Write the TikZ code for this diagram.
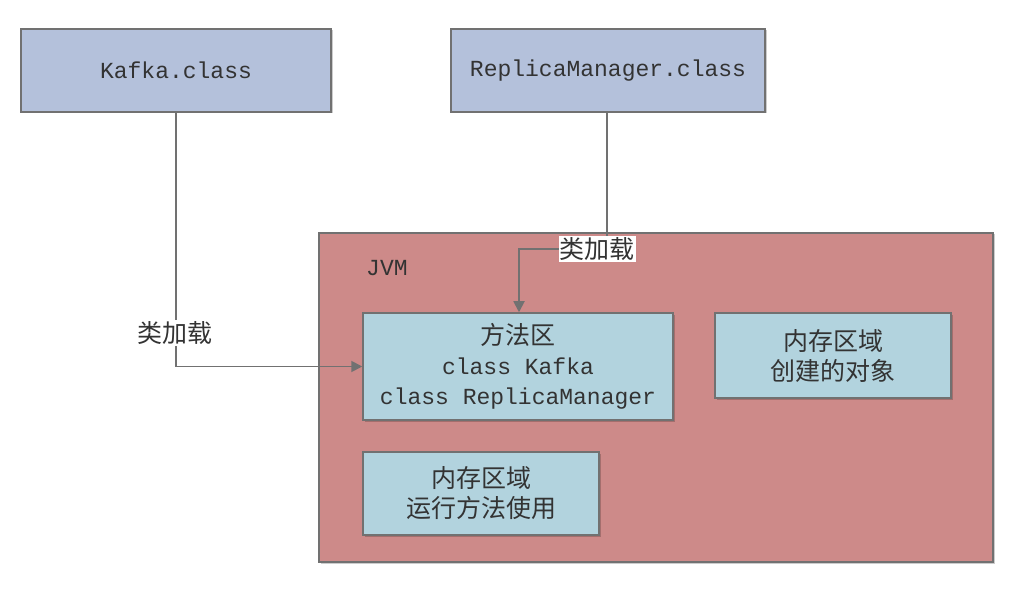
\documentclass[tikz,border=0pt]{standalone}
\usepackage{fontspec}
\setmonofont{Liberation Mono}
\newfontfamily\cjk{Noto Sans CJK SC}
\usetikzlibrary{arrows.meta,shadows}
\definecolor{topblue}{HTML}{B4C1DB}
\definecolor{jvmred}{HTML}{CD8A89}
\definecolor{inblue}{HTML}{B2D3DE}
\definecolor{edgegray}{HTML}{717171}
\definecolor{txt}{HTML}{333333}
\tikzset{
  box/.style={draw=edgegray, line width=1.5pt, text=txt, align=center,
    drop shadow={shadow xshift=1.5pt, shadow yshift=-1.5pt, opacity=0.2, fill=black}},
  conn/.style={draw=edgegray, line width=1.8pt, -{Triangle[length=11pt,width=11pt]}},
  lbl/.style={fill=white, inner sep=1pt, text=txt, font=\cjk\fontsize{25}{28}\selectfont},
  mono/.style={font=\ttfamily\fontsize{23}{30}\selectfont},
}
\newcommand{\ck}[1]{{\cjk\fontsize{25}{30}\selectfont #1}}
\begin{document}
\begin{tikzpicture}[x=1pt,y=-1pt]
\useasboundingbox (0,0) rectangle (1018,596);
% top boxes
\node[box, fill=topblue, mono, minimum width=310pt, minimum height=83pt] (kafka) at (176,70.5) {Kafka.class};
\node[box, fill=topblue, mono, minimum width=314pt, minimum height=83pt] (rm) at (608,70.5) {ReplicaManager.class};
% JVM
\node[box, fill=jvmred, minimum width=674pt, minimum height=329pt] (jvm) at (656,397.5) {};
\node[mono, text=txt, anchor=west, inner sep=0pt] (jvml) at (366,268) {JVM};
% inner boxes
\node[box, fill=inblue, mono, minimum width=310pt, minimum height=107pt] (method) at (518,366.5)
  {\ck{方法区}\\class Kafka\\class ReplicaManager};
\node[box, fill=inblue, mono, minimum width=236pt, minimum height=85pt] (heap) at (833,355.5)
  {\ck{内存区域}\\\ck{创建的对象}};
\node[box, fill=inblue, mono, minimum width=236pt, minimum height=83pt] (stack) at (481,493.5)
  {\ck{内存区域}\\\ck{运行方法使用}};
% connectors
\draw[conn] (kafka.south) |- (method.west);
\node[lbl] (l1) at (175,333) {类加载};
\coordinate (c2) at (607,249);
\coordinate (c3) at (519,249);
\draw[conn] (rm.south -| c2) -- (c2) -- (c3) -- (c3 |- method.north);
\node[lbl] (l2) at (597,249) {类加载};
\end{tikzpicture}
\end{document}
